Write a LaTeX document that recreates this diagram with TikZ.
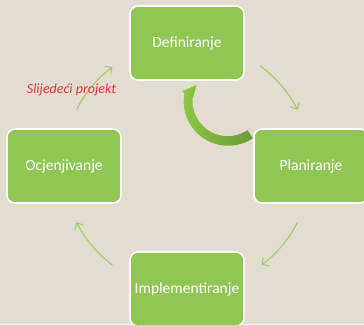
\documentclass[tikz,border=0pt]{standalone}
\usepackage{fontspec}
\setmainfont{Carlito}
\usetikzlibrary{arrows.meta,calc}
\definecolor{bg}{HTML}{E3DDD1}
\definecolor{boxgreen}{HTML}{90C653}
\definecolor{flowgreen}{HTML}{9CCD62}
\definecolor{arrlight}{HTML}{8DC643}
\definecolor{arrdark}{HTML}{6A9B36}
\definecolor{labelred}{HTML}{E6333F}
\tikzset{
  stage/.style={rectangle, rounded corners=8pt, fill=boxgreen, draw=white,
    line width=1.6pt, minimum width=114pt, minimum height=74pt,
    text=white, font=\fontsize{15.5}{18}\selectfont, inner sep=0pt},
  flow/.style={draw=flowgreen, line width=1pt,
    -{Straight Barb[length=5pt,width=10pt]}},
}
\begin{document}
\begin{tikzpicture}[x=1pt,y=-1pt]
\fill[bg] (0,0) rectangle (364,324);
\useasboundingbox (0,0) rectangle (364,324);
\node[stage] (def) at (187,43) {Definiranje};
\node[stage] (plan) at (311,166) {Planiranje};
\node[stage] (impl) at (187,289) {Implementiranje};
\node[stage] (ocj) at (64,166) {Ocjenjivanje};
\coordinate (cen) at (187,166);
\draw[flow] ($(cen)+(-54:124)$) arc[start angle=-54,end angle=-27,radius=124];
\draw[flow] ($(cen)+(27:124)$) arc[start angle=27,end angle=53,radius=124];
\draw[flow] ($(cen)+(127:124)$) arc[start angle=127,end angle=153,radius=124];
\draw[flow] ($(cen)+(207:124)$) arc[start angle=207,end angle=233,radius=124];
\node[text=labelred, font=\fontsize{14}{16}\selectfont\itshape] (next) at (71.5,90) {Slijedeći projekt};
% curved return arrow
\coordinate (rc) at (228,101);
\shade[left color=arrlight, right color=arrdark]
  ($(rc)+(56:44.8)$) arc[start angle=56,end angle=190,radius=44.5]
  -- (182.5,91) -- (196.5,85) -- (193.5,96.5)
  -- ($(rc)+(190:35.5)$) arc[start angle=190,end angle=56,radius=35.2]
  -- cycle;
\end{tikzpicture}
\end{document}
